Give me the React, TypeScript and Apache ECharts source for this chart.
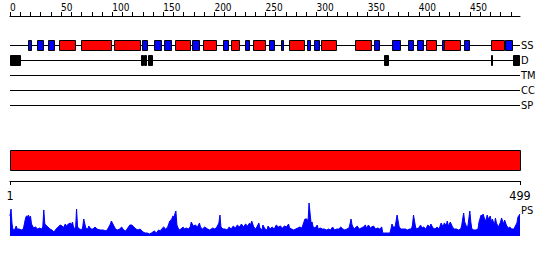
import React, { useEffect, useRef } from "react";
import * as echarts from "echarts";

const SEQ_LEN = 499;
const rulerTicks = [0, 10, 20, 30, 40, 50, 60, 70, 80, 90, 100, 110, 120, 130, 140, 150, 160, 170, 180, 190, 200, 210, 220, 230, 240, 250, 260, 270, 280, 290, 300, 310, 320, 330, 340, 350, 360, 370, 380, 390, 400, 410, 420, 430, 440, 450, 460, 470, 480, 490];
const rulerLabels = [0, 50, 100, 150, 200, 250, 300, 350, 400, 450];
const trackNames = ["SS", "D", "TM", "CC", "SP"];

const helices: [number, number][] = [
  [48, 64], [69, 98], [102, 127], [161, 176], [189, 202], [216, 224], [238, 250],
  [273, 288], [304, 319], [338, 354], [407, 417], [425, 441], [471, 484],
];
const strands: [number, number][] = [
  [18, 21], [26, 32], [37, 43], [129, 134], [141, 148], [151, 158], [178, 185],
  [208, 213], [230, 234], [253, 258], [265, 267], [291, 294], [297, 302], [356, 361],
  [374, 382], [389, 394], [398, 404], [423, 425], [444, 449], [484, 491],
];
const disorder: [number, number][] = [
  [0, 10], [128, 130], [131, 133], [135, 139], [366, 370], [471, 472], [492, 498],
];
const domains: [number, number][] = [[1, 499]];
const endLabels = [1, 499];

const psResidues = [1, 2, 3, 4, 6, 7, 8, 10, 12, 14, 16, 17, 18, 19, 20, 21, 22, 24, 26, 28, 30, 32, 33, 34, 35, 37, 38, 40, 42, 44, 46, 48, 50, 52, 53, 55, 56, 58, 60, 61, 62, 63, 65, 66, 67, 69, 71, 72, 73, 75, 77, 78, 80, 82, 84, 86, 89, 92, 95, 97, 99, 100, 102, 104, 106, 108, 110, 112, 114, 116, 118, 120, 122, 124, 126, 128, 131, 133, 135, 137, 139, 142, 144, 146, 148, 149, 151, 153, 155, 157, 159, 160, 161, 163, 164, 166, 168, 170, 171, 173, 175, 177, 178, 180, 182, 184, 186, 187, 189, 191, 194, 196, 199, 201, 203, 205, 206, 207, 209, 211, 213, 215, 217, 219, 221, 223, 225, 227, 229, 231, 233, 235, 236, 237, 239, 241, 242, 244, 245, 247, 248, 250, 252, 253, 255, 257, 259, 261, 263, 265, 267, 269, 271, 273, 274, 276, 278, 280, 282, 284, 286, 287, 289, 291, 292, 293, 295, 296, 297, 299, 301, 302, 304, 306, 308, 310, 312, 314, 316, 318, 320, 322, 324, 326, 328, 330, 332, 333, 334, 335, 337, 339, 340, 342, 344, 346, 348, 349, 351, 353, 354, 356, 358, 360, 362, 364, 365, 367, 370, 372, 373, 374, 375, 377, 379, 380, 381, 383, 385, 387, 389, 391, 393, 394, 395, 397, 398, 400, 402, 403, 405, 407, 409, 411, 412, 414, 416, 418, 420, 422, 424, 425, 427, 428, 429, 431, 433, 435, 437, 439, 441, 442, 443, 444, 445, 447, 448, 450, 451, 452, 454, 456, 458, 459, 461, 462, 463, 465, 466, 467, 468, 470, 471, 472, 474, 475, 476, 478, 480, 481, 483, 484, 486, 488, 489, 491, 493, 494, 496, 497, 499];
const psScores = [20, 27, 12, 6, 7, 10, 7, 7, 6, 7, 17, 20, 19, 21, 18, 20, 12, 8, 9, 7, 8, 7, 9, 26, 12, 10, 9, 7, 6, 4, 7, 9, 11, 10, 8, 12, 10, 12, 13, 11, 14, 9, 7, 27, 9, 7, 6, 9, 17, 8, 7, 10, 7, 7, 9, 7, 6, 6, 5, 8, 12, 15, 11, 7, 6, 7, 9, 6, 5, 8, 11, 11, 9, 7, 6, 7, 4, 3, 3, 2, 3, 5, 3, 6, 5, 7, 9, 7, 9, 15, 17, 20, 19, 25, 11, 6, 7, 9, 7, 8, 7, 9, 14, 10, 11, 9, 13, 9, 7, 9, 7, 6, 8, 7, 9, 13, 21, 9, 7, 7, 6, 9, 7, 10, 8, 11, 9, 12, 9, 12, 10, 13, 11, 15, 9, 7, 9, 13, 8, 6, 11, 7, 6, 10, 7, 9, 7, 11, 9, 10, 8, 10, 9, 12, 8, 7, 6, 7, 8, 9, 8, 11, 17, 17, 14, 33, 13, 14, 9, 8, 11, 7, 8, 7, 7, 6, 7, 6, 9, 6, 7, 7, 9, 7, 6, 7, 8, 12, 17, 11, 7, 9, 10, 7, 8, 9, 11, 8, 11, 8, 9, 10, 7, 8, 7, 9, 3, 3, 3, 3, 7, 12, 9, 9, 21, 15, 9, 7, 7, 7, 6, 7, 7, 11, 21, 9, 7, 8, 11, 8, 9, 7, 11, 9, 12, 8, 7, 9, 7, 13, 9, 13, 11, 15, 10, 14, 9, 7, 7, 6, 7, 10, 17, 23, 14, 9, 9, 25, 14, 7, 6, 6, 7, 14, 21, 20, 22, 15, 17, 21, 17, 20, 14, 17, 11, 18, 13, 9, 14, 18, 12, 16, 10, 8, 9, 7, 7, 9, 13, 19, 22];

const FONT = "'DejaVu Sans Condensed', 'DejaVu Sans', sans-serif";

export default function App() {
  const ref = useRef<HTMLDivElement>(null);
  useEffect(() => {
    document.body.style.margin = "0";
    const chart = echarts.init(ref.current!, null, { renderer: "svg" });
    const ssIdx = trackNames.indexOf("SS");
    const dIdx = trackNames.indexOf("D");

    const boxSeries = (name: string, data: [number, number][], idx: number, color: string) => ({
      type: "custom",
      name,
      xAxisIndex: 1,
      yAxisIndex: 1,
      data: data.map(([s, e]) => [idx, s, e]),
      encode: { x: [1, 2], y: 0 },
      renderItem: (params: any, api: any) => {
        const tr = api.value(0);
        const a = api.coord([api.value(1), tr]);
        const b = api.coord([api.value(2), tr]);
        const h = Math.round(api.size([0, 1])[1] * (2 / 3));
        return {
          type: "rect",
          shape: { x: Math.round(a[0]) + 0.5, y: a[1] - h / 2, width: Math.max(1, Math.round(b[0] - a[0])), height: h },
          style: { fill: color, stroke: "#000", lineWidth: 1 },
        };
      },
      z: 3,
    });

    chart.setOption({
      animation: false,
      textStyle: { fontFamily: FONT },
      grid: [
        { left: 10, top: 15, width: 510, height: 1 },
        { left: 10, top: 38, width: 510, height: 75 },
        { left: 10, top: 150, width: 510, height: 31 },
        { left: 10, top: 200, width: 510, height: 36 },
      ],
      xAxis: [
        {
          gridIndex: 0, type: "value", position: "top", min: 0, max: SEQ_LEN,
          axisLine: { show: true, lineStyle: { color: "#000", width: 1 } },
          axisTick: { show: true, length: 4, lineStyle: { color: "#000" }, customValues: rulerTicks },
          axisLabel: { show: true, customValues: rulerLabels, align: "left", margin: 3, fontSize: 10, color: "#000", fontFamily: FONT },
          splitLine: { show: false },
        },
        { gridIndex: 1, type: "value", min: 0, max: SEQ_LEN, show: false },
        {
          gridIndex: 2, type: "value", position: "bottom", min: 1, max: SEQ_LEN,
          axisLine: { show: true, lineStyle: { color: "#000", width: 1 } },
          axisTick: { show: true, length: 4, lineStyle: { color: "#000" }, customValues: endLabels },
          axisLabel: { show: true, customValues: endLabels, margin: 8, fontSize: 12.5, color: "#000", fontFamily: FONT },
          splitLine: { show: false },
        },
        { gridIndex: 3, type: "value", min: 1, max: SEQ_LEN, show: false },
      ],
      yAxis: [
        { gridIndex: 0, type: "value", show: false },
        {
          gridIndex: 1, type: "category", data: trackNames, inverse: true, position: "right",
          axisLine: { show: false }, axisTick: { show: false }, splitLine: { show: false },
          axisLabel: { show: true, margin: 1, fontSize: 11, color: "#000", fontFamily: FONT },
        },
        { gridIndex: 2, type: "value", min: 0, max: 31, show: false },
        { gridIndex: 3, type: "value", min: 0, max: 36, show: false },
      ],
      graphic: [
        { type: "text", left: 521, top: 205, style: { text: "PS", fontSize: 11, fill: "#000", fontFamily: FONT } },
      ],
      series: [
        {
          type: "custom",
          xAxisIndex: 1,
          yAxisIndex: 1,
          data: trackNames.map((_, i) => [i, 0, SEQ_LEN]),
          encode: { x: [1, 2], y: 0 },
          renderItem: (params: any, api: any) => {
            const tr = api.value(0);
            const a = api.coord([api.value(1), tr]);
            const b = api.coord([api.value(2), tr]);
            return {
              type: "line",
              shape: { x1: a[0], y1: a[1], x2: b[0], y2: b[1] },
              style: { stroke: "#000", lineWidth: 1 },
            };
          },
          z: 2,
        },
        boxSeries("helix", helices, ssIdx, "#ff0000"),
        boxSeries("strand", strands, ssIdx, "#0000ff"),
        boxSeries("disorder", disorder, dIdx, "#000000"),
        {
          type: "custom",
          xAxisIndex: 2,
          yAxisIndex: 2,
          data: domains,
          encode: { x: [0, 1] },
          renderItem: (params: any, api: any) => {
            const a = api.coord([api.value(0), 31]);
            const b = api.coord([api.value(1), 11]);
            return {
              type: "rect",
              shape: { x: a[0] + 0.5, y: a[1] + 0.5, width: b[0] - a[0], height: b[1] - a[1] },
              style: { fill: "#ff0000", stroke: "#000", lineWidth: 1 },
            };
          },
        },
        {
          type: "line",
          xAxisIndex: 3,
          yAxisIndex: 3,
          data: psResidues.map((r, i) => [r, psScores[i]]),
          symbol: "none",
          lineStyle: { color: "#0000ff", width: 1 },
          areaStyle: { color: "#0000ff", opacity: 1 },
          itemStyle: { color: "#0000ff" },
        },
      ],
    });
    return () => chart.dispose();
  }, []);
  return <div ref={ref} style={{ position: "absolute", left: 0, top: 0, width: 550, height: 260 }} />;
}
